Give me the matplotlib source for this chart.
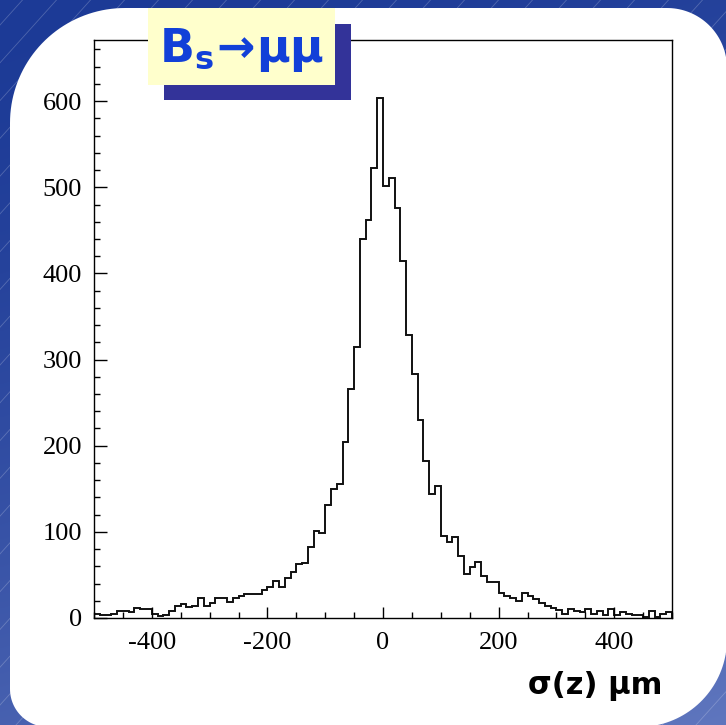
import numpy as np
import matplotlib
matplotlib.use("Agg")
import matplotlib.pyplot as plt
from matplotlib.patches import Polygon, Rectangle
from matplotlib.ticker import MultipleLocator

plt.rcParams['axes.unicode_minus'] = False

# ---- data ----
bin_edges = np.arange(-500, 501, 10)
counts_neg = [5, 3, 3, 5, 8, 8, 7, 12, 11, 10,
              5, 2, 4, 8, 14, 16, 13, 14, 23, 14,
              17, 23, 23, 18, 23, 25, 28, 28, 28, 32,
              36, 43, 36, 46, 53, 63, 64, 82, 101, 99,
              131, 150, 155, 204, 266, 315, 440, 462, 522, 604]
counts_pos = [501, 511, 476, 415, 329, 283, 230, 182, 144, 153,
              95, 88, 94, 72, 51, 59, 65, 49, 42, 42,
              29, 25, 23, 20, 29, 25, 22, 17, 14, 12,
              9, 5, 10, 8, 7, 11, 5, 8, 4, 11,
              3, 7, 5, 4, 3, 1, 8, 1, 5, 7]
counts = np.array(counts_neg + counts_pos)
y_ticks = [0, 100, 200, 300, 400, 500, 600]
x_ticks = [-400, -200, 0, 200, 400]
title_text = r'$\mathbf{B_s\!\rightarrow\!\mu\mu}$'
xlabel_text = 'σ(z) μm'

W, H = 726, 725
fig = plt.figure(figsize=(W / 100, H / 100), dpi=100)

# ---- background ----
bg = fig.add_axes([0, 0, 1, 1], zorder=-10)
bg.set_xlim(0, W)
bg.set_ylim(H, 0)
bg.axis('off')
yy, xx = np.mgrid[0:H:4, 0:W:4]
t = np.clip(0.25 * xx / W + 0.75 * yy / H, 0, 1) ** 1.5
dark = np.array([28, 58, 150]) / 255
light = np.array([95, 118, 190]) / 255
img = dark[None, None, :] * (1 - t[..., None]) + light[None, None, :] * t[..., None]
bg.imshow(img, extent=[0, W, H, 0], aspect='auto', interpolation='bilinear')
for x0 in np.arange(-800, 800, 34):
    bg.plot([x0, x0 + H * 0.9], [H, 0], color='white', alpha=0.22, lw=0.6)


def rounded(left, top, right, bottom, r_tl, r_tr, r_br, r_bl, n=40):
    pts = []
    def arc(cx, cy, r, a0, a1):
        a = np.linspace(a0, a1, n)
        return list(zip(cx + r * np.cos(a), cy + r * np.sin(a)))
    pts += arc(left + r_tl, top + r_tl, r_tl, np.pi, 1.5 * np.pi)
    pts += arc(right - r_tr, top + r_tr, r_tr, 1.5 * np.pi, 2 * np.pi)
    pts += arc(right - r_br, bottom - r_br, r_br, 0, 0.5 * np.pi)
    pts += arc(left + r_bl, bottom - r_bl, r_bl, 0.5 * np.pi, np.pi)
    return np.array(pts)

bg.add_patch(Polygon(rounded(10, 8, 727, 727, 115, 60, 88, 38),
                     closed=True, facecolor='white', edgecolor='none'))

# ---- main axes ----
axl, axr, axt, axb = 94, 672, 40, 618
ax = fig.add_axes([axl / W, 1 - axb / H, (axr - axl) / W, (axb - axt) / H])
ax.stairs(counts, bin_edges, color='#111111', lw=1.4)
ax.set_xlim(-500, 500)
ax.set_ylim(0, 671)
ax.set_facecolor('white')
for s in ax.spines.values():
    s.set_linewidth(1.0)
    s.set_color('black')
ax.set_xticks(x_ticks)
ax.set_yticks(y_ticks)
ax.xaxis.set_minor_locator(MultipleLocator(50))
ax.yaxis.set_minor_locator(MultipleLocator(20))
ax.tick_params(axis='both', which='both', direction='in', top=False, right=False,
               color='black', width=1.0)
ax.tick_params(axis='y', which='major', length=9.5, pad=8.5)
ax.tick_params(axis='y', which='minor', length=4.5)
ax.tick_params(axis='x', which='major', length=8, pad=10)
ax.tick_params(axis='x', which='minor', length=4.5)
for lab in ax.get_xticklabels() + ax.get_yticklabels():
    lab.set_fontfamily('Liberation Serif')
    lab.set_fontsize(19)

# ---- title box ----
fig.patches.append(Rectangle((164 / W, 1 - 100 / H), (351 - 164) / W, (100 - 24) / H,
                             transform=fig.transFigure, facecolor='#333399',
                             edgecolor='none', zorder=5))
fig.patches.append(Rectangle((148 / W, 1 - 85 / H), (335 - 148) / W, (85 - 8) / H,
                             transform=fig.transFigure, facecolor='#ffffcc',
                             edgecolor='none', zorder=6))
fig.text(242 / W, 1 - 50 / H, title_text, color='#1240d8', fontsize=33,
         ha='center', va='center', zorder=7)

# ---- x label ----
fig.text(662 / W, 1 - 686 / H, xlabel_text, fontsize=22, fontweight='bold',
         family='DejaVu Sans', ha='right', va='center', color='black', zorder=7)

fig.savefig('out.png', dpi=100)
